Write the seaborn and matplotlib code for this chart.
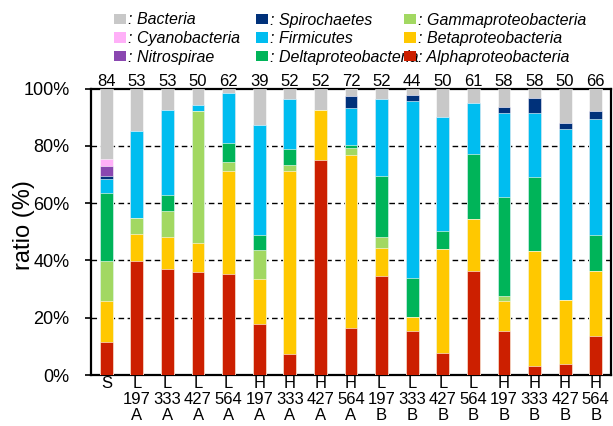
import matplotlib
matplotlib.use("Agg")
import matplotlib.pyplot as plt
from matplotlib.patches import Patch
import numpy as np
import pandas as pd
import seaborn as sns

sns.set_style("white")
plt.rcParams["font.family"] = ["Liberation Sans", "DejaVu Sans"]
plt.rcParams.update({"text.color": "black", "axes.labelcolor": "black",
                     "xtick.color": "black", "ytick.color": "black"})

# Samples (site / depth / replicate) and number of clones per library
samples = ["S",
           "L\n197\nA", "L\n333\nA", "L\n427\nA", "L\n564\nA",
           "H\n197\nA", "H\n333\nA", "H\n427\nA", "H\n564\nA",
           "L\n197\nB", "L\n333\nB", "L\n427\nB", "L\n564\nB",
           "H\n197\nB", "H\n333\nB", "H\n427\nB", "H\n564\nB"]
clones = [84, 53, 53, 50, 62, 39, 52, 52, 72, 52, 44, 50, 61, 58, 58, 50, 66]

# Relative abundance of each taxon (%), stacked bottom to top
alpha = [11.6, 39.7, 36.9, 36.0, 35.4, 17.7, 7.5, 75.1, 16.5, 34.6, 15.5, 7.8, 36.4, 15.4, 3.1, 3.8, 13.5]
beta = [14.2, 9.5, 11.4, 10.1, 35.7, 15.7, 63.6, 17.3, 60.2, 9.6, 4.6, 36.3, 18.2, 10.4, 40.1, 22.3, 22.9]
gamma = [14.1, 5.5, 9.1, 46.1, 3.2, 10.3, 2.2, 0.0, 2.7, 3.8, 0.0, 0.0, 0.0, 1.9, 0.0, 0.0, 0.0]
delta = [23.5, 0.0, 5.5, 0.0, 6.6, 5.0, 5.7, 0.0, 0.9, 21.3, 13.9, 6.0, 22.4, 34.3, 25.8, 0.0, 12.3]
firmicutes = [4.9, 30.3, 29.6, 2.1, 17.7, 38.5, 17.4, 0.0, 12.8, 27.1, 61.6, 39.8, 18.1, 29.6, 22.6, 59.9, 40.7]
spirochaetes = [1.3, 0.0, 0.0, 0.0, 0.0, 0.0, 0.0, 0.0, 4.2, 0.0, 2.3, 0.0, 0.0, 1.8, 5.1, 2.1, 2.9]
nitrospirae = [3.4, 0, 0, 0, 0, 0, 0, 0, 0, 0, 0, 0, 0, 0, 0, 0, 0]
cyanobacteria = [2.4, 0, 0, 0, 0, 0, 0, 0, 0, 0, 0, 0, 0, 0, 0, 0, 0]
bacteria = [24.6, 15.0, 7.5, 5.7, 1.4, 12.8, 3.6, 7.6, 2.7, 3.6, 2.1, 10.1, 4.9, 6.6, 3.3, 11.9, 7.7]

taxa = ["Alphaproteobacteria", "Betaproteobacteria", "Gammaproteobacteria",
        "Deltaproteobacteria", "Firmicutes", "Spirochaetes", "Nitrospirae",
        "Cyanobacteria", "Bacteria"]
values = [alpha, beta, gamma, delta, firmicutes, spirochaetes, nitrospirae,
          cyanobacteria, bacteria]
colors = {"Alphaproteobacteria": "#cc1f00",
          "Betaproteobacteria": "#ffc800",
          "Gammaproteobacteria": "#a2d862",
          "Deltaproteobacteria": "#00b459",
          "Firmicutes": "#00bdf0",
          "Spirochaetes": "#00317a",
          "Nitrospirae": "#8a47b0",
          "Cyanobacteria": "#ffb0f8",
          "Bacteria": "#c8c8c8"}

df = pd.DataFrame({t: v for t, v in zip(taxa, values)}, index=samples)
cum = df.cumsum(axis=1)

fig = plt.figure(figsize=(6.13, 4.26), dpi=100)
ax = fig.add_axes([91 / 613, 1 - 375 / 426, (611 - 91) / 613, (375 - 88.5) / 426])

# Draw cumulative totals from the top layer down so each segment shows
for t in reversed(taxa):
    sns.barplot(x=samples, y=cum[t].values, order=samples, color=colors[t],
                width=0.42, edgecolor="#ffffff", linewidth=0.4,
                saturation=1, ax=ax, zorder=3)

ax.set_xlim(-0.5, 16.5)
ax.set_ylim(0, 100)
ax.set_yticks([0, 20, 40, 60, 80, 100])
ax.set_yticklabels([f"{v}%" for v in [0, 20, 40, 60, 80, 100]], fontsize=13)
ax.set_xticks(range(len(samples)))
ax.set_xticklabels(samples, fontsize=12, linespacing=1.07)
ax.tick_params(axis="y", direction="out", length=4, width=1.2, pad=11.5, left=True)
ax.tick_params(axis="x", length=0, pad=1)
ax.set_ylabel("ratio (%)", fontsize=17)
ax.yaxis.set_label_coords(-0.107, 0.523)
ax.set_xlabel("")

for y in [20, 40, 60, 80]:
    ax.axhline(y, color="black", linestyle=(0, (4, 2.5)), linewidth=1.0, zorder=1)

for s in ax.spines.values():
    s.set_visible(True)
    s.set_color("black")
    s.set_linewidth(1.6)

for i, n in enumerate(clones):
    ax.annotate(str(n), (i, 100), xytext=(0, 0), textcoords="offset points",
                ha="center", va="bottom", fontsize=12, annotation_clip=False)

# Legend: three columns above the plot
legend_cols = [["Bacteria", "Cyanobacteria", "Nitrospirae"],
               ["Spirochaetes", "Firmicutes", "Deltaproteobacteria"],
               ["Gammaproteobacteria", "Betaproteobacteria", "Alphaproteobacteria"]]
col_x = [114, 256, 404]
for xpix, col in zip(col_x, legend_cols):
    handles = [Patch(facecolor=colors[t], edgecolor="none") for t in col]
    labels = [": " + t for t in col]
    fig.legend(handles, labels, loc="upper left",
               bbox_to_anchor=(xpix / 613, 1 - 12.5 / 426), frameon=False,
               prop={"style": "italic", "size": 11.5}, handlelength=0.78,
               handleheight=0.62, handletextpad=0.1,
               labelspacing=0.22, borderpad=0, borderaxespad=0)

fig.savefig("out.png", dpi=100)
